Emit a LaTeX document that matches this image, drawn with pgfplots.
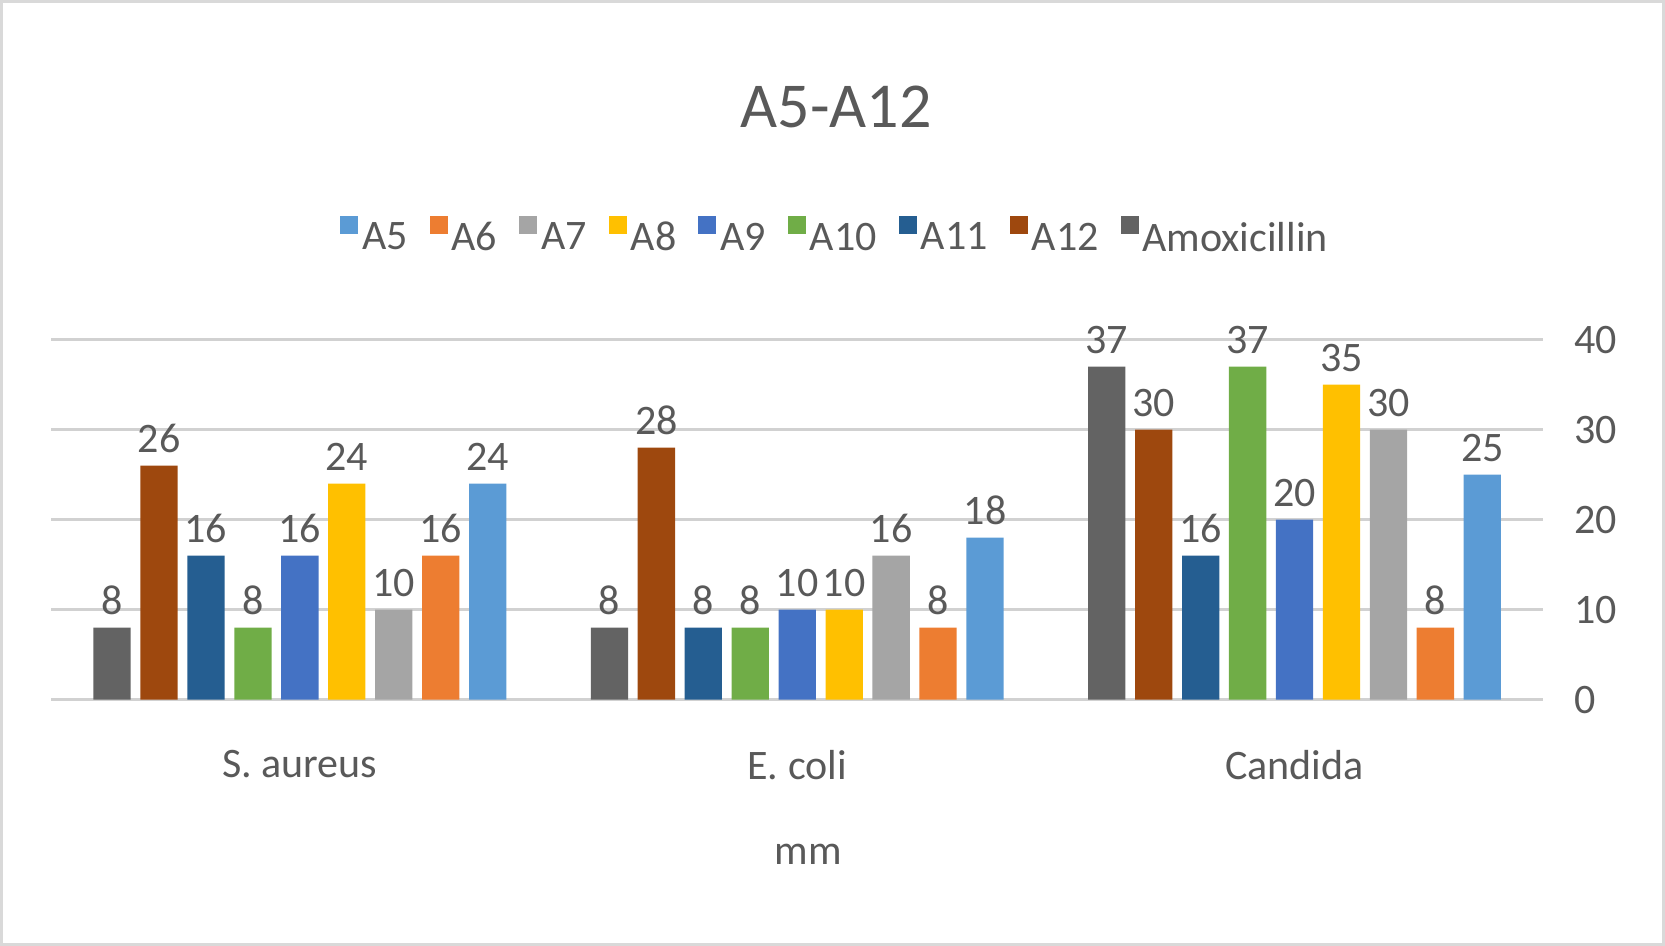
\documentclass[border=0pt]{standalone}
\usepackage{pgfplots}
\pgfplotsset{compat=1.18}
\usepackage{fontspec}
\setmainfont{Carlito}
\definecolor{cA5}{HTML}{5B9BD5}
\definecolor{cA6}{HTML}{ED7D31}
\definecolor{cA7}{HTML}{A5A5A5}
\definecolor{cA8}{HTML}{FFC000}
\definecolor{cA9}{HTML}{4472C4}
\definecolor{cA10}{HTML}{70AD47}
\definecolor{cA11}{HTML}{255E91}
\definecolor{cA12}{HTML}{9E480E}
\definecolor{cAm}{HTML}{636363}
\definecolor{txt}{HTML}{595959}
\begin{document}
\begin{tikzpicture}
\draw[color=black!15, line width=1.5pt] (0.75pt,0.75pt) rectangle (831.75pt,472.25pt);
\node[font=\fontsize{32}{38}\selectfont, text=txt] at (418pt,419.6pt) {A5-A12};
\node[font=\fontsize{21}{25}\selectfont, text=txt] at (404pt,45.8pt) {mm};
\begin{axis}[
  at={(25.6pt,123.2pt)}, anchor=south west,
  scale only axis, width=746pt, height=180pt,
  xmin=-0.5, xmax=2.5, ymin=0, ymax=40,
  ytick={0,10,20,30,40}, ytick pos=right,
  yticklabel style={xshift=12pt, font=\fontsize{21}{25}\selectfont, text=txt},
  /pgf/number format/assume math mode=true,
  xtick={0,1,2}, xticklabels={S. aureus, E. coli, Candida},
  xticklabel style={yshift=-22pt, font=\fontsize{21}{25}\selectfont, text=txt},
  major tick length=0pt,
  ymajorgrids, grid style={color=black!18, line width=1.2pt},
  axis line style={draw=none},
  clip=false,
  ybar, bar width=0.075,
  nodes near coords,
  every node near coord/.append style={font=\fontsize{21}{25}\selectfont, text=txt, yshift=3pt},
  legend columns=9,
  legend style={draw=none, fill=none, at={(0.526,1.285)}, anchor=center,
    font=\fontsize{21}{25}\selectfont, text=txt, /tikz/every even column/.append style={column sep=9pt}},
  legend image code/.code={\fill[#1] (0pt,2pt) rectangle (9pt,11pt);},
]
\addplot[fill=cA5, draw=none, bar shift=0.3776] coordinates {(0,24) (1,18) (2,25)};
\addplot[fill=cA6, draw=none, bar shift=0.2832] coordinates {(0,16) (1,8) (2,8)};
\addplot[fill=cA7, draw=none, bar shift=0.1888] coordinates {(0,10) (1,16) (2,30)};
\addplot[fill=cA8, draw=none, bar shift=0.0944] coordinates {(0,24) (1,10) (2,35)};
\addplot[fill=cA9, draw=none, bar shift=0] coordinates {(0,16) (1,10) (2,20)};
\addplot[fill=cA10, draw=none, bar shift=-0.0944] coordinates {(0,8) (1,8) (2,37)};
\addplot[fill=cA11, draw=none, bar shift=-0.1888] coordinates {(0,16) (1,8) (2,16)};
\addplot[fill=cA12, draw=none, bar shift=-0.2832] coordinates {(0,26) (1,28) (2,30)};
\addplot[fill=cAm, draw=none, bar shift=-0.3776] coordinates {(0,8) (1,8) (2,37)};
\legend{A5,A6,A7,A8,A9,A10,A11,A12,Amoxicillin}
\end{axis}
\end{tikzpicture}
\end{document}
